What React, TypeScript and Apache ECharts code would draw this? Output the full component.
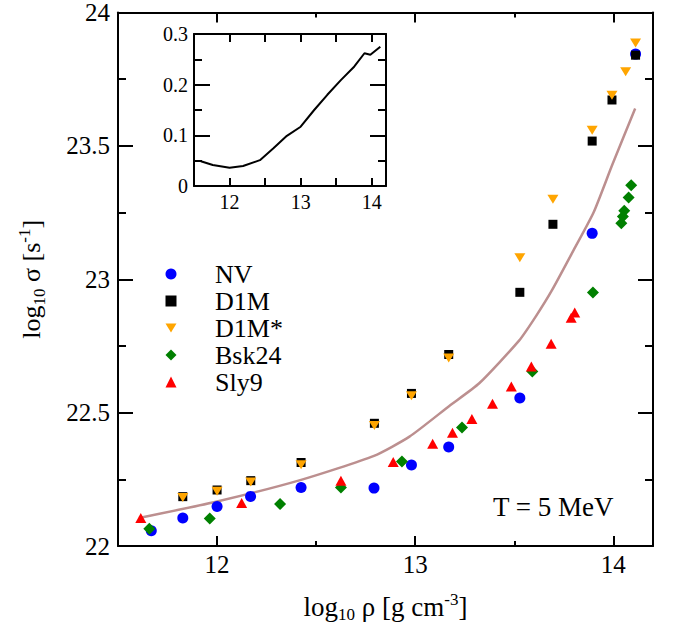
import React, { useEffect, useRef } from 'react';
import * as echarts from 'echarts';

const FONT = '"Liberation Serif", "Times New Roman", serif';

// Main panel data: log10 rho vs log10 sigma
const nvX = [11.668, 11.827, 12.0, 12.169, 12.424, 12.792, 12.981, 13.169, 13.528, 13.893, 14.112];
const nvY = [22.057, 22.105, 22.148, 22.186, 22.219, 22.217, 22.304, 22.371, 22.555, 23.172, 23.844];

const d1mX = [11.827, 12.0, 12.17, 12.424, 12.794, 12.981, 13.169, 13.528, 13.695, 13.893, 13.993, 14.112];
const d1mY = [22.185, 22.21, 22.245, 22.313, 22.46, 22.572, 22.718, 22.951, 23.206, 23.518, 23.672, 23.84];

const d1msX = [11.827, 12.0, 12.17, 12.424, 12.794, 12.981, 13.169, 13.528, 13.695, 13.893, 13.993, 14.062, 14.112];
const d1msY = [22.182, 22.205, 22.24, 22.305, 22.452, 22.563, 22.705, 23.081, 23.3, 23.559, 23.69, 23.778, 23.886];

const bskX = [11.658, 11.963, 12.318, 12.625, 12.933, 13.236, 13.591, 13.897, 14.04, 14.048, 14.055, 14.077, 14.09];
const bskY = [22.065, 22.103, 22.157, 22.219, 22.317, 22.444, 22.654, 22.95, 23.21, 23.235, 23.257, 23.306, 23.352];

const slyX = [11.615, 12.124, 12.625, 12.889, 13.088, 13.188, 13.286, 13.39, 13.485, 13.586, 13.686, 13.787, 13.805];
const slyY = [22.105, 22.161, 22.245, 22.315, 22.383, 22.425, 22.476, 22.533, 22.598, 22.673, 22.758, 22.856, 22.875];

const curveX = [11.606, 12.0, 12.424, 12.792, 12.971, 13.172, 13.323, 13.524, 13.608, 13.691, 13.8, 13.9, 13.995, 14.11];
const curveY = [22.105, 22.167, 22.248, 22.338, 22.41, 22.525, 22.61, 22.77, 22.86, 22.96, 23.11, 23.25, 23.43, 23.64];

// Inset data
const insetX = [11.597, 11.764, 12.0, 12.19, 12.427, 12.617, 12.806, 13.0, 13.19, 13.375, 13.565, 13.755, 13.897, 13.98, 14.12];
const insetY = [0.049, 0.0415, 0.036, 0.0395, 0.051, 0.0745, 0.099, 0.117, 0.15, 0.18, 0.209, 0.236, 0.262, 0.259, 0.275];

// Ticks
const xMajor = [12, 13, 14];
const xMinor = [12.5, 13.5];
const insetXTicks = [12, 12.5, 13, 13.5, 14];

const seriesNames = ['NV', 'D1M', 'D1M*', 'Bsk24', 'Sly9'];
const annotation = 'T = 5 MeV';

const pairs = (xs: number[], ys: number[]) => xs.map((x, i) => [x, ys[i]]);

export default function App() {
  const ref = useRef<HTMLDivElement>(null);
  useEffect(() => {
    const chart = echarts.init(ref.current!, null, { renderer: 'svg' });
    const line = { color: '#000', width: 2 };
    const baseX = (gridIndex: number, position: string) => ({
      type: 'value',
      gridIndex,
      min: 11.5,
      max: 14.2,
      position,
      splitLine: { show: false },
      axisLine: { show: true, onZero: false, lineStyle: line },
    });
    const baseY = (gridIndex: number, position: string, min: number, max: number, interval: number) => ({
      type: 'value',
      gridIndex,
      min,
      max,
      interval,
      position,
      splitLine: { show: false },
      axisLine: { show: true, onZero: false, lineStyle: line },
    });
    const titleRich = (size: number) => ({
      n: { fontFamily: FONT, fontSize: size, color: '#000' },
      s: { fontFamily: FONT, fontSize: 17, color: '#000', padding: [16, 0, 0, 0] },
      p: { fontFamily: FONT, fontSize: 17, color: '#000', padding: [0, 0, 14, 0] },
    });
    const option: any = {
      animation: false,
      backgroundColor: '#fff',
      grid: [
        { left: 118, top: 12, width: 535, height: 534 },
        { left: 194, top: 34, width: 192, height: 152, show: true, backgroundColor: '#fff', borderWidth: 0 },
      ],
      xAxis: [
        {
          ...baseX(0, 'bottom'),
          axisTick: { show: true, inside: true, length: 10, lineStyle: line, customValues: xMajor },
          axisLabel: { show: true, customValues: xMajor, fontFamily: FONT, fontSize: 25, color: '#000', margin: 6 },
          name: '{n|log}{s|10}{n| ρ [g cm}{p|-3}{n|]}',
          nameLocation: 'middle',
          nameGap: 44,
          nameTextStyle: { color: '#000', fontFamily: FONT, fontSize: 27, rich: titleRich(27) },
        },
        {
          ...baseX(0, 'bottom'),
          axisLine: { show: false, onZero: false },
          axisTick: { show: true, inside: true, length: 5, lineStyle: line, customValues: xMinor },
          axisLabel: { show: false },
        },
        {
          ...baseX(0, 'top'),
          axisTick: { show: true, inside: true, length: 10, lineStyle: line, customValues: xMajor },
          axisLabel: { show: false },
        },
        {
          ...baseX(0, 'top'),
          axisLine: { show: false, onZero: false },
          axisTick: { show: true, inside: true, length: 5, lineStyle: line, customValues: xMinor },
          axisLabel: { show: false },
        },
        {
          ...baseX(1, 'bottom'),
          axisTick: { show: true, inside: true, length: 8, lineStyle: line, customValues: insetXTicks },
          axisLabel: { show: true, customValues: xMajor, fontFamily: FONT, fontSize: 20, color: '#000', margin: 6 },
        },
        {
          ...baseX(1, 'top'),
          axisTick: { show: true, inside: true, length: 8, lineStyle: line, customValues: insetXTicks },
          axisLabel: { show: false },
        },
      ],
      yAxis: [
        {
          ...baseY(0, 'left', 22, 24, 0.5),
          axisTick: { show: true, inside: true, length: 15, lineStyle: line },
          minorTick: { show: true, splitNumber: 2, length: 8, lineStyle: line },
          axisLabel: { fontFamily: FONT, fontSize: 25, color: '#000', margin: 8 },
          name: '{n|log}{s|10}{n| σ [s}{p|-1}{n|]}',
          nameLocation: 'middle',
          nameRotate: 90,
          nameGap: 70,
          nameTextStyle: { color: '#000', fontFamily: FONT, fontSize: 26, rich: titleRich(26) },
        },
        {
          ...baseY(0, 'right', 22, 24, 0.5),
          axisTick: { show: true, inside: true, length: 15, lineStyle: line },
          minorTick: { show: true, splitNumber: 2, length: 8, lineStyle: line },
          axisLabel: { show: false },
        },
        {
          ...baseY(1, 'left', 0, 0.3, 0.1),
          axisTick: { show: true, inside: true, length: 16, lineStyle: line },
          minorTick: { show: true, splitNumber: 2, length: 8, lineStyle: line },
          axisLabel: {
            fontFamily: FONT,
            fontSize: 20,
            color: '#000',
            margin: 6,
            formatter: (v: number) => (Math.abs(v) < 1e-9 ? '0' : v.toFixed(1)),
          },
        },
        {
          ...baseY(1, 'right', 0, 0.3, 0.1),
          axisTick: { show: true, inside: true, length: 16, lineStyle: line },
          minorTick: { show: true, splitNumber: 2, length: 8, lineStyle: line },
          axisLabel: { show: false },
        },
      ],
      legend: {
        orient: 'vertical',
        left: 165.5,
        top: 261,
        padding: 0,
        itemWidth: 11,
        itemHeight: 11,
        itemGap: 1,
        selectedMode: false,
        data: seriesNames,
        textStyle: { fontFamily: FONT, fontSize: 26, color: '#000', lineHeight: 25.7, padding: [0, 0, 0, 33.5] },
      },
      graphic: [
        {
          type: 'text',
          left: 493,
          top: 493,
          style: { text: annotation, fontFamily: FONT, fontSize: 27, fill: '#000' },
        },
      ],
      series: [
        {
          type: 'line',
          xAxisIndex: 0,
          yAxisIndex: 0,
          data: pairs(curveX, curveY),
          symbol: 'none',
          smooth: 0.2,
          lineStyle: { color: '#bc8f8f', width: 2.5 },
          z: 1,
        },
        {
          name: seriesNames[0],
          type: 'scatter',
          xAxisIndex: 0,
          yAxisIndex: 0,
          data: pairs(nvX, nvY),
          symbol: 'circle',
          symbolSize: 11,
          itemStyle: { color: '#0000ff', opacity: 1 },
          z: 2,
        },
        {
          name: seriesNames[1],
          type: 'scatter',
          xAxisIndex: 0,
          yAxisIndex: 0,
          data: pairs(d1mX, d1mY),
          symbol: 'rect',
          symbolSize: 9,
          itemStyle: { color: '#000000', opacity: 1 },
          z: 3,
        },
        {
          name: seriesNames[2],
          type: 'scatter',
          xAxisIndex: 0,
          yAxisIndex: 0,
          data: pairs(d1msX, d1msY),
          symbol: 'path://M0,0L10,0L5,8Z',
          symbolSize: [11, 9],
          itemStyle: { color: '#ffa500', opacity: 1 },
          z: 4,
        },
        {
          name: seriesNames[3],
          type: 'scatter',
          xAxisIndex: 0,
          yAxisIndex: 0,
          data: pairs(bskX, bskY),
          symbol: 'diamond',
          symbolSize: [12, 12],
          itemStyle: { color: '#008000', opacity: 1 },
          z: 5,
        },
        {
          name: seriesNames[4],
          type: 'scatter',
          xAxisIndex: 0,
          yAxisIndex: 0,
          data: pairs(slyX, slyY),
          symbol: 'triangle',
          symbolSize: [11, 10],
          itemStyle: { color: '#ff0000', opacity: 1 },
          z: 6,
        },
        {
          type: 'line',
          xAxisIndex: 4,
          yAxisIndex: 2,
          data: pairs(insetX, insetY),
          symbol: 'none',
          lineStyle: { color: '#000', width: 2 },
          z: 7,
        },
      ],
    };
    chart.setOption(option);
    return () => chart.dispose();
  }, []);
  return (
    <div
      ref={ref}
      style={{ position: 'fixed', left: 0, top: 0, width: 677, height: 630, background: '#fff' }}
    />
  );
}
